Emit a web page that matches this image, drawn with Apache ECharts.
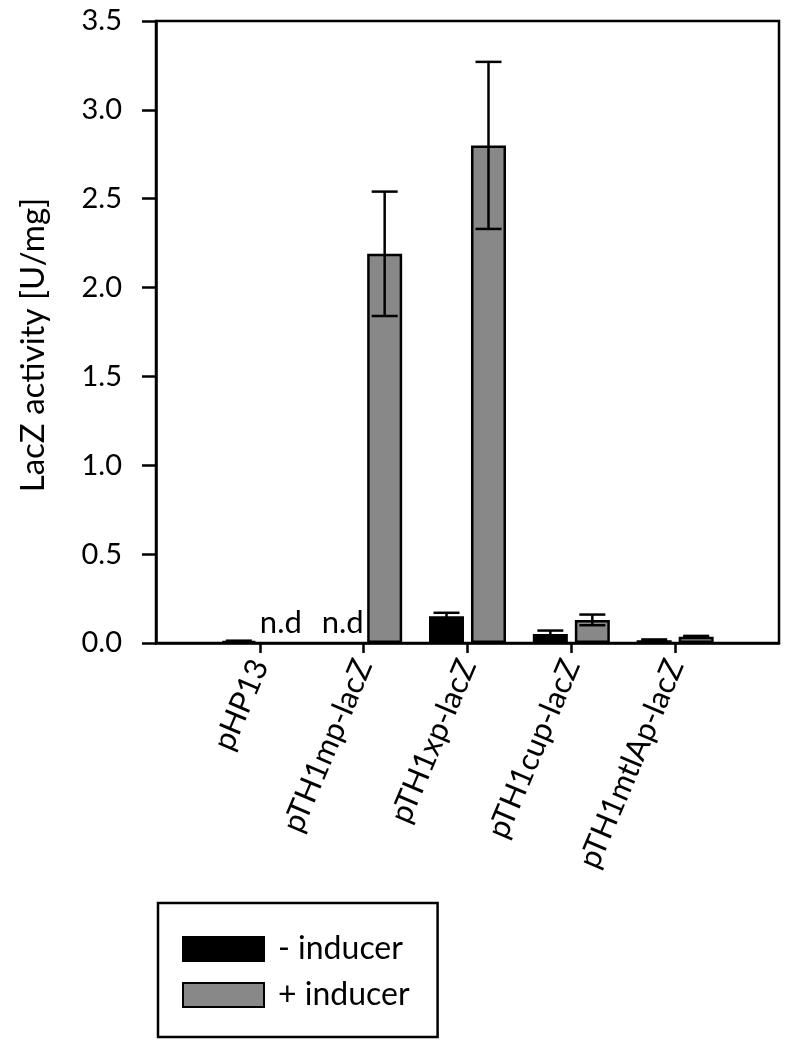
<!DOCTYPE html>
<html>
<head>
<meta charset="utf-8">
<script src="https://cdn.jsdelivr.net/npm/echarts@6/dist/echarts.min.js"></script>
<style>html,body{margin:0;padding:0;background:#fff}#c{width:793px;height:1047px}</style>
</head>
<body>
<div id="c"></div>
<script>
var categories = ['pHP13', 'pTH1mp-lacZ', 'pTH1xp-lacZ', 'pTH1cup-lacZ', 'pTH1mtlAp-lacZ'];
var minusInducer = [0.01, null, 0.15, 0.05, 0.015];
var minusErr = [0.003, null, 0.02, 0.02, 0.005];
var plusInducer = [null, 2.19, 2.80, 0.13, 0.035];
var plusErr = [null, 0.35, 0.47, 0.03, 0.005];
var yTicks = [0, 0.5, 1.0, 1.5, 2.0, 2.5, 3.0, 3.5];

var FONT = 'Lato, "Open Sans", sans-serif';
var BAR_W = 35, OFFSET = 21;
var axisCats = [''].concat(categories).concat(['']);
function pad(arr) { return ['-'].concat(arr.map(function (v) { return v == null ? '-' : v; })).concat(['-']); }
function errData(vals, errs, side) {
  return vals.map(function (v, i) { return [i + 1, v == null ? 0 : v, errs[i] == null ? 0 : errs[i], side, v == null ? 1 : 0]; });
}
function renderErr(params, api) {
  var idx = api.value(0), v = api.value(1), e = api.value(2), side = api.value(3), nd = api.value(4);
  var c = api.coord([idx, v]);
  var x = c[0] + side * OFFSET;
  if (nd) {
    return { type: 'text', style: { text: 'n.d', x: x, y: c[1] - 5, textAlign: 'center', textVerticalAlign: 'bottom', font: '31px ' + FONT, fill: '#000' } };
  }
  var top = api.coord([idx, v + e])[1], bot = api.coord([idx, Math.max(0, v - e)])[1];
  var hw = 13;
  var st = { stroke: '#000', lineWidth: 2.5 };
  return { type: 'group', children: [
    { type: 'line', shape: { x1: x, y1: top, x2: x, y2: bot }, style: st },
    { type: 'line', shape: { x1: x - hw, y1: top, x2: x + hw, y2: top }, style: st },
    { type: 'line', shape: { x1: x - hw, y1: bot, x2: x + hw, y2: bot }, style: st }
  ] };
}
var chart = echarts.init(document.getElementById('c'));
chart.setOption({
  animation: false,
  backgroundColor: '#fff',
  textStyle: { fontFamily: FONT },
  grid: { left: 156, right: 14, top: 21, bottom: 404, show: true, borderColor: '#000', borderWidth: 2.5 },
  legend: {
    orient: 'vertical', left: 158, bottom: 10,
    data: ['- inducer', '+ inducer'],
    itemWidth: 81, itemHeight: 24, itemGap: 14,
    padding: [30, 28, 26, 24],
    borderColor: '#000', borderWidth: 2.5,
    textStyle: { fontSize: 32, fontFamily: FONT, color: '#000', padding: [0, 0, 0, 9] },
    icon: 'rect'
  },
  xAxis: {
    type: 'category', data: axisCats, boundaryGap: false,
    axisLine: { lineStyle: { color: '#000', width: 2.5 } },
    axisTick: { length: 10, lineStyle: { color: '#000', width: 2.5 }, interval: function (i, v) { return v !== ''; } },
    axisLabel: {
      interval: 0, rotate: 67, margin: 18, fontSize: 31, fontStyle: 'normal', color: '#000', fontFamily: FONT
    }
  },
  yAxis: {
    type: 'value', min: yTicks[0], max: yTicks[yTicks.length - 1], interval: 0.5,
    name: 'LacZ activity [U/mg]', nameLocation: 'middle', nameGap: 106,
    nameTextStyle: { fontSize: 33, color: '#000', fontFamily: FONT, padding: [0, 26, 0, 0] },
    axisLine: { show: true, lineStyle: { color: '#000', width: 2.5 } },
    axisTick: { show: true, length: 14, lineStyle: { color: '#000', width: 2.5 } },
    axisLabel: { fontSize: 29, color: '#000', margin: 34, fontFamily: FONT, formatter: function (v) { return v.toFixed(1); } },
    splitLine: { show: false }
  },
  series: [
    { name: '- inducer', type: 'bar', data: pad(minusInducer), barWidth: BAR_W, barGap: '20%',
      itemStyle: { color: '#000', borderColor: '#000', borderWidth: 2.5 } },
    { name: '+ inducer', type: 'bar', data: pad(plusInducer), barWidth: BAR_W, barGap: '20%',
      itemStyle: { color: '#888888', borderColor: '#000', borderWidth: 2.5 } },
    { type: 'custom', renderItem: renderErr, data: errData(minusInducer, minusErr, -1), z: 10, silent: true },
    { type: 'custom', renderItem: renderErr, data: errData(plusInducer, plusErr, 1), z: 10, silent: true }
  ]
});
</script>
</body>
</html>
